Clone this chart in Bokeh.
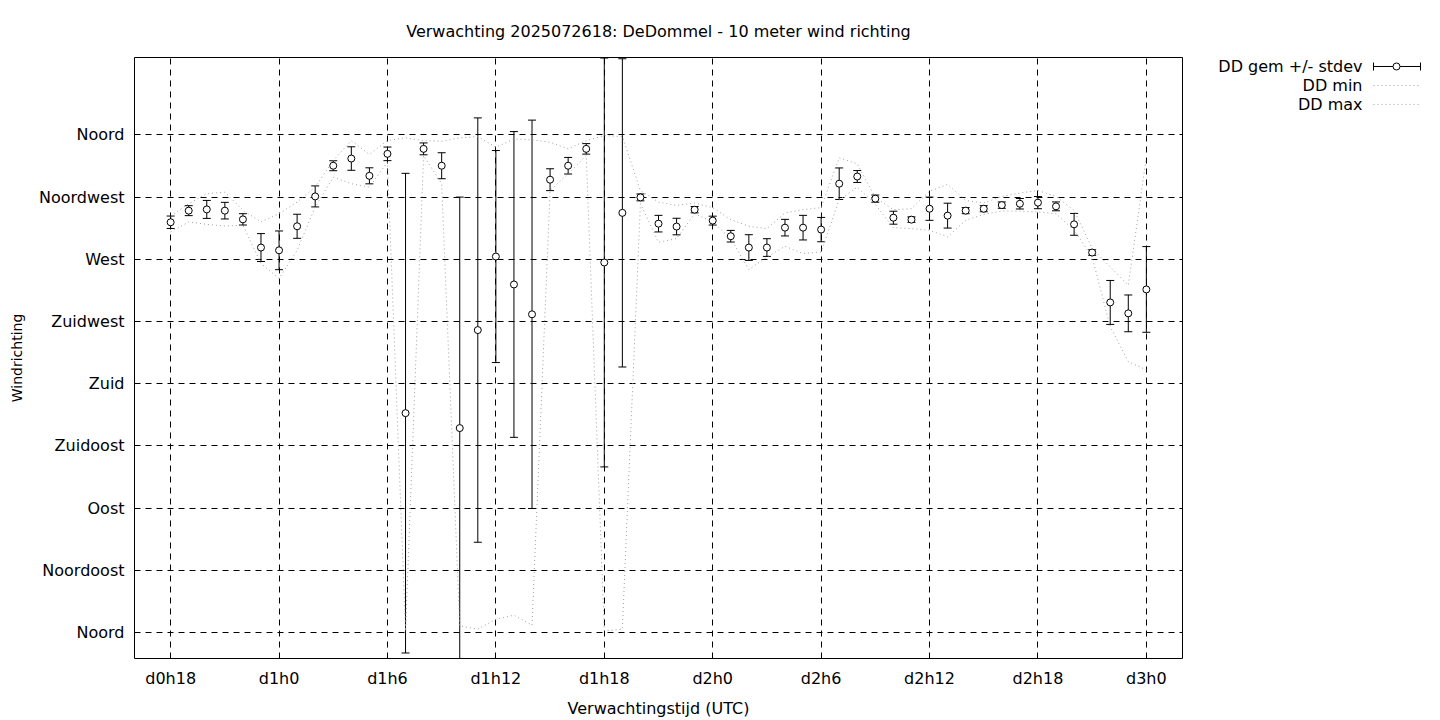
from bokeh.plotting import figure
from bokeh.models import Range1d, FixedTicker, Whisker, TeeHead, ColumnDataSource
from bokeh.layouts import row
from bokeh.core.properties import value
from bokeh.embed import file_html
from bokeh.resources import INLINE

# ---------------- data ----------------
hours = list(range(18, 73))  # forecast hour since d0h0

dd_gem = [296.8, 305.2, 306.1, 305.2, 298.9, 278.5, 276.5, 293.9, 315.5, 337.7,
          342.9, 330.4, 346.3, 158.7, 349.9, 337.7, 147.9, 218.8, 272.0, 251.8,
          230.2, 327.6, 337.7, 349.9, 267.7, 303.6, 314.8, 295.8, 293.7, 305.9,
          298.0, 286.7, 278.5, 278.5, 292.9, 292.9, 291.5, 324.7, 329.9, 313.9,
          300.1, 298.7, 306.6, 301.6, 305.2, 306.6, 309.2, 310.2, 311.0, 308.3,
          295.3, 274.9, 238.8, 230.9, 248.2]

dd_std = [4.5, 3.6, 6.5, 6.0, 4.1, 10.1, 14.0, 8.7, 7.6, 3.6,
          8.5, 5.8, 4.9, 173.5, 4.3, 9.4, 167.1, 153.5, 76.7, 110.6,
          140.5, 7.9, 6.0, 3.8, 147.9, 111.5, 2.5, 6.0, 6.0, 2.3,
          3.2, 4.2, 9.3, 6.4, 6.0, 8.9, 8.8, 11.4, 4.3, 2.6,
          4.7, 2.0, 8.4, 9.0, 2.2, 2.2, 2.3, 3.8, 4.4, 3.2,
          7.9, 2.0, 15.9, 13.3, 31.0]

dd_min = [289.8, 297.0, 295.3, 294.1, 294.6, 267.0, 256.1, 276.5, 307.8, 329.4,
          324.7, 322.2, 340.3, 1.0, 345.0, 324.7, 4.8, 2.4, 9.6, 12.5,
          5.3, 319.8, 331.9, 345.0, 1.2, 2.4, 310.2, 282.3, 285.0, 303.0,
          297.0, 285.0, 262.6, 271.7, 279.4, 274.2, 275.3, 313.1, 322.2, 309.7,
          292.9, 292.2, 291.0, 286.2, 298.2, 302.5, 304.9, 304.9, 304.2, 303.0,
          291.0, 271.7, 221.2, 196.0, 190.0]

dd_max = [301.3, 310.2, 317.5, 318.6, 305.5, 297.0, 303.0, 311.4, 322.2, 341.5,
          355.9, 345.8, 355.9, 357.9, 355.9, 355.4, 357.9, 358.8, 351.1, 357.1,
          356.4, 354.7, 349.9, 355.9, 359.5, 358.8, 319.8, 311.4, 309.0, 310.7,
          307.4, 298.7, 293.9, 292.2, 303.5, 305.9, 307.4, 343.4, 339.1, 314.6,
          305.9, 306.6, 319.3, 324.2, 312.6, 310.7, 315.5, 317.9, 319.8, 315.5,
          305.4, 277.8, 264.5, 251.3, 343.9]

x_ticks = [18, 24, 30, 36, 42, 48, 54, 60, 66, 72]
x_tick_labels = ["d0h18", "d1h0", "d1h6", "d1h12", "d1h18",
                 "d2h0", "d2h6", "d2h12", "d2h18", "d3h0"]

y_ticks = [0, 45, 90, 135, 180, 225, 270, 315, 360]
y_tick_labels = ["Noord", "Noordoost", "Oost", "Zuidoost", "Zuid",
                 "Zuidwest", "West", "Noordwest", "Noord"]

legend_labels = ["DD gem +/- stdev", "DD min", "DD max"]

title_text = "Verwachting 2025072618: DeDommel - 10 meter wind richting"
x_label = "Verwachtingstijd (UTC)"
y_label = "Windrichting"

FONT = "DejaVu Sans"
GREY = "#a0a0a0"

# ---------------- geometry (page pixels) ----------------
TOTAL_W, TOTAL_H = 1440, 720
MAIN_W = 1190
FRAME_L, FRAME_R, FRAME_T, FRAME_B = 134, 1182, 57, 659

# ---------------- main figure ----------------
p = figure(width=MAIN_W, height=TOTAL_H, output_backend="svg", toolbar_location=None,
           x_range=Range1d(16, 74), y_range=Range1d(-18.8, 416.0),
           min_border_left=FRAME_L, min_border_right=MAIN_W - FRAME_R,
           min_border_top=FRAME_T, min_border_bottom=TOTAL_H - FRAME_B)

p.title.text = title_text
p.title.align = "center"
p.title.text_font = FONT
p.title.text_font_size = "16px"
p.title.text_font_style = "normal"
p.title.text_color = "black"
p.title.standoff = 34

p.outline_line_color = "black"
p.outline_line_width = 1
p.outline_line_alpha = 1
p.background_fill_color = "white"
p.border_fill_color = "white"

p.xaxis.ticker = FixedTicker(ticks=x_ticks)
p.xaxis.major_label_overrides = {t: l for t, l in zip(x_ticks, x_tick_labels)}
p.yaxis.ticker = FixedTicker(ticks=y_ticks)
p.yaxis.major_label_overrides = {t: l for t, l in zip(y_ticks, y_tick_labels)}

for ax in (p.xaxis, p.yaxis):
    ax.axis_line_color = None
    ax.major_tick_line_color = None
    ax.minor_tick_line_color = None
    ax.major_tick_out = 0
    ax.major_tick_in = 0
    ax.minor_tick_out = 0
    ax.minor_tick_in = 0
    ax.major_label_text_font = FONT
    ax.major_label_text_font_size = "16px"
    ax.major_label_text_color = "black"
    ax.axis_label_text_font = FONT
    ax.axis_label_text_font_style = "normal"
    ax.axis_label_text_color = "black"

p.xaxis.axis_label = x_label
p.xaxis.axis_label_text_font_size = "16px"
p.xaxis.major_label_standoff = 10
p.xaxis.axis_label_standoff = 8
p.yaxis.axis_label = y_label
p.yaxis.axis_label_text_font_size = "14px"
p.yaxis.major_label_standoff = 10
p.yaxis.axis_label_standoff = 11

p.xgrid.ticker = FixedTicker(ticks=x_ticks)
p.ygrid.ticker = FixedTicker(ticks=y_ticks)
for g in (p.xgrid, p.ygrid):
    g.grid_line_color = "black"
    g.grid_line_alpha = 1
    g.grid_line_width = 1
    g.grid_line_dash = "6 5"

src = ColumnDataSource(dict(
    hour=hours, gem=dd_gem,
    upper=[m + s for m, s in zip(dd_gem, dd_std)],
    lower=[m - s for m, s in zip(dd_gem, dd_std)],
    dmin=dd_min, dmax=dd_max))

p.line("hour", "dmin", source=src, line_color=GREY, line_width=1, line_dash="1 3")
p.line("hour", "dmax", source=src, line_color=GREY, line_width=1, line_dash="1 3")

wh = Whisker(base="hour", upper="upper", lower="lower", source=src,
             dimension="height", line_color="black", line_width=1,
             upper_head=TeeHead(size=8, line_color="black", line_width=1),
             lower_head=TeeHead(size=8, line_color="black", line_width=1))
p.add_layout(wh)

p.scatter("hour", "gem", source=src, size=7, marker="circle",
          fill_color="white", line_color="black", line_width=1)

# ---------------- legend panel (its frame aligns with the main frame) ----------------
lg = figure(width=TOTAL_W - MAIN_W, height=TOTAL_H, output_backend="svg",
            toolbar_location=None,
            x_range=Range1d(MAIN_W, TOTAL_W), y_range=Range1d(FRAME_B, FRAME_T),
            x_axis_type=None, y_axis_type=None, min_border=0)
lg.outline_line_color = None
lg.grid.visible = False
lg.background_fill_color = "white"
lg.border_fill_color = "white"

row_y = [66, 85, 104]
lg.text(x=[1362] * 3, y=row_y, text=legend_labels, text_align="right",
        text_baseline="middle", text_font=value(FONT), text_font_size="16px",
        text_color="black")
# error-bar sample
lg.segment(x0=[1373], y0=[row_y[0]], x1=[1420], y1=[row_y[0]],
           line_color="black", line_width=1)
lg.segment(x0=[1373, 1420], y0=[row_y[0] - 4] * 2, x1=[1373, 1420], y1=[row_y[0] + 4] * 2,
           line_color="black", line_width=1)
lg.scatter(x=[1396], y=[row_y[0]], size=7, marker="circle", fill_color="white",
           line_color="black", line_width=1)
# min / max samples
lg.segment(x0=[1373, 1373], y0=row_y[1:], x1=[1420, 1420], y1=row_y[1:],
           line_color=GREY, line_width=1, line_dash="1 3")

layout = row(p, lg)
open("out.html", "w").write(file_html(layout, INLINE))
